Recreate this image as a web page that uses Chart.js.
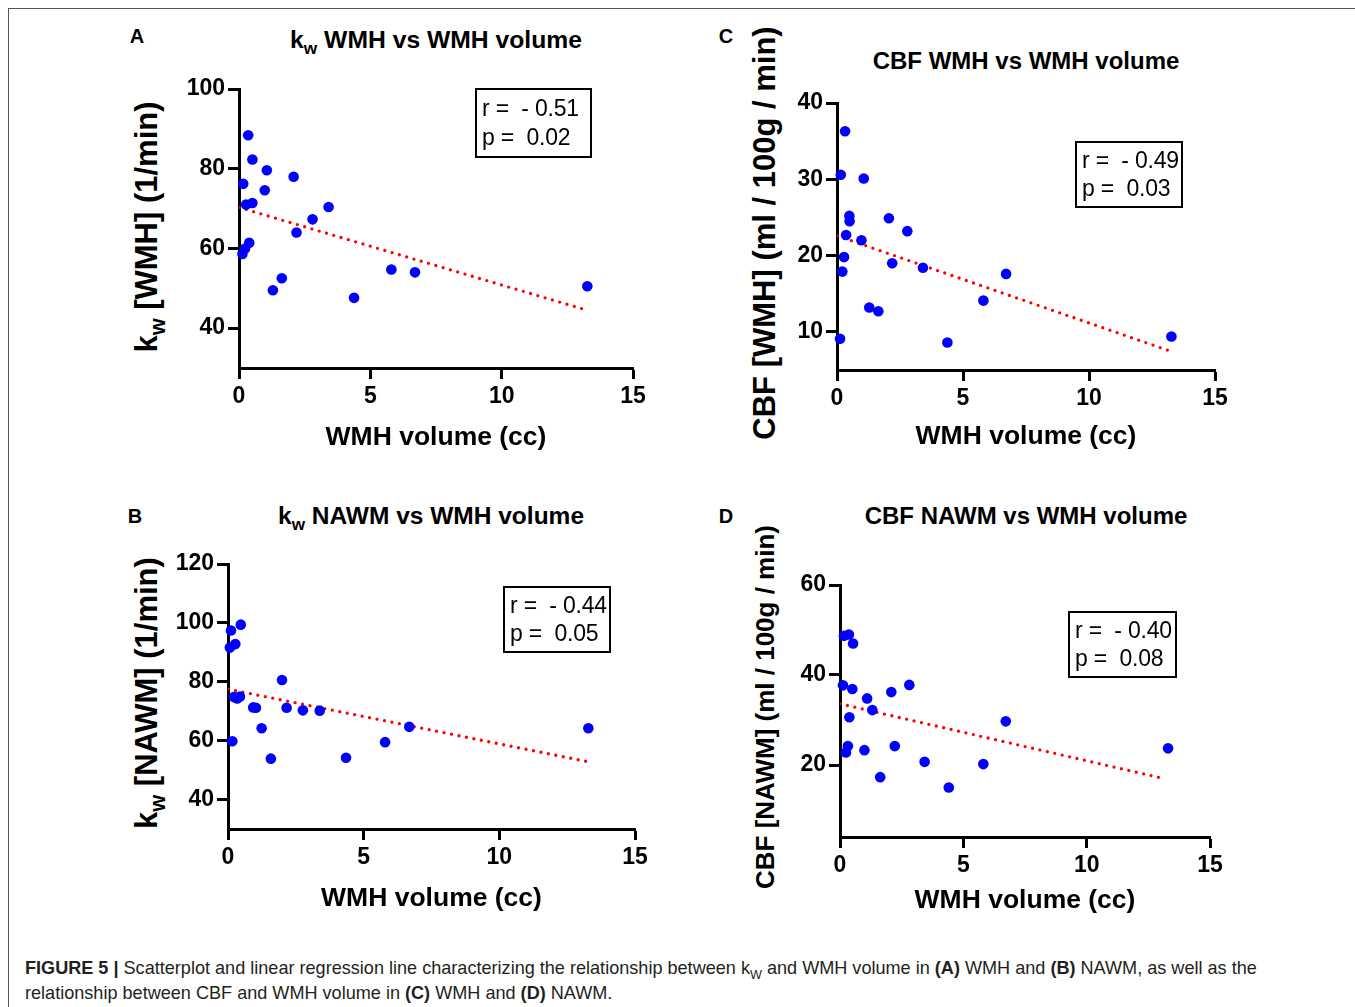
<!DOCTYPE html>
<html>
<head>
<meta charset="utf-8">
<script src="https://cdn.jsdelivr.net/npm/chart.js@4.4.0/dist/chart.umd.min.js"></script>
<style>
  body { margin: 0; background: #fff; width: 1355px; height: 1007px; position: relative; overflow: hidden;
         font-family: "Liberation Sans", Arial, sans-serif; color: #000; }
  .frame { position: absolute; left: 8px; top: 8px; width: 1347px; height: 999px;
           border-left: 1.5px solid #555; border-top: 1.5px solid #555; }
  canvas { position: absolute; }
  .letter { position: absolute; font-weight: bold; font-size: 20px; transform: translate(-50%, -50%); }
  .title { position: absolute; font-weight: bold; font-size: 24px; white-space: nowrap; transform: translate(-50%, -50%); }
  .ytitle { position: absolute; font-weight: bold; white-space: nowrap; transform: translate(-50%, -50%) rotate(-90deg); }
  .stat { position: absolute; box-sizing: border-box; border: 2px solid #000; font-size: 23px; line-height: 28px;
          padding: 3px 0 0 5px; white-space: pre; letter-spacing: -0.2px; }
  sub { font-size: 0.7em; vertical-align: -0.35em; line-height: 0; }
  .caption { position: absolute; left: 25px; top: 955px; font-size: 19px; line-height: 25px; color: #231f20;
             white-space: nowrap; transform: scaleX(0.952); transform-origin: 0 0; }
</style>
</head>
<body>
<div class="frame"></div>

<div class="letter" style="left:137px; top:36px;">A</div>
<div class="letter" style="left:726px; top:36px;">C</div>
<div class="letter" style="left:135px; top:516px;">B</div>
<div class="letter" style="left:726px; top:516px;">D</div>

<div class="title" style="left:436px; top:40px; font-size:24.7px;">k<sub>w</sub> WMH vs WMH volume</div>
<div class="title" style="left:1026px; top:61px;">CBF WMH vs WMH volume</div>
<div class="title" style="left:431px; top:516px; font-size:24.5px;">k<sub>w</sub> NAWM vs WMH volume</div>
<div class="title" style="left:1026px; top:516px;">CBF NAWM vs WMH volume</div>

<div class="ytitle" style="left:147px; top:227px; font-size:31px;">k<sub>w</sub> [WMH] (1/min)</div>
<div class="ytitle" style="left:765px; top:233px; font-size:31px;">CBF [WMH] (ml / 100g / min)</div>
<div class="ytitle" style="left:147px; top:693px; font-size:31px;">k<sub>w</sub> [NAWM] (1/min)</div>
<div class="ytitle" style="left:765px; top:707px; font-size:26px;">CBF [NAWM] (ml / 100g / min)</div>

<canvas id="chartA" width="500" height="420" style="left:170px; top:60px;"></canvas>
<canvas id="chartC" width="480" height="410" style="left:770px; top:70px;"></canvas>
<canvas id="chartB" width="510" height="405" style="left:160px; top:535px;"></canvas>
<canvas id="chartD" width="480" height="385" style="left:770px; top:555px;"></canvas>

<div class="stat" style="left:475px; top:88px; width:117px; height:70px; line-height:29px; padding-top:4px;">r =  - 0.51
p =  0.02</div>
<div class="stat" style="left:1075px; top:141px; width:108px; height:67px;">r =  - 0.49
p =  0.03</div>
<div class="stat" style="left:503px; top:586px; width:108px; height:67px;">r =  - 0.44
p =  0.05</div>
<div class="stat" style="left:1068px; top:611px; width:109px; height:67px;">r =  - 0.40
p =  0.08</div>

<div class="caption"><b>FIGURE 5 |</b> Scatterplot and linear regression line characterizing the relationship between k<sub>W</sub> and WMH volume in <b>(A)</b> WMH and <b>(B)</b> NAWM, as well as the<br>relationship between CBF and WMH volume in <b>(C)</b> WMH and <b>(D)</b> NAWM.</div>

<script>
// shared x axis
const xTicks = [0, 5, 10, 15];

// A: kw WMH vs WMH volume
const volA = [0.35, 0.51, 1.06, 2.08, 0.16, 0.98, 0.27, 0.51, 3.41, 2.80, 2.19, 0.39, 0.23, 0.13, 1.63, 1.29, 4.38, 5.80, 6.70, 13.26];
const kwWmh = [88.4, 82.3, 79.6, 78.0, 76.2, 74.6, 71.0, 71.4, 70.4, 67.3, 64.0, 61.4, 60.0, 58.6, 52.5, 49.5, 47.6, 54.7, 54.0, 50.5];
const fitAx = [0, 13.1];
const fitAy = [70.3, 44.8];
const yTicksA = [40, 60, 80, 100];

// C: CBF WMH vs WMH volume
const volC = [0.32, 0.15, 1.06, 0.49, 0.50, 2.06, 2.79, 0.36, 0.97, 0.28, 2.19, 3.41, 0.21, 6.71, 5.81, 1.28, 1.64, 0.12, 4.38, 13.27];
const cbfWmh = [36.3, 30.6, 30.1, 25.2, 24.5, 24.9, 23.2, 22.7, 22.0, 19.8, 19.0, 18.4, 17.9, 17.6, 14.1, 13.2, 12.7, 9.1, 8.6, 9.4];
const fitCx = [0, 13.12];
const fitCy = [22.6, 7.6];
const yTicksC = [10, 20, 30, 40];

// B: kw NAWM vs WMH volume
const volB = [0.47, 0.11, 0.27, 0.07, 1.99, 0.22, 0.34, 0.44, 0.93, 1.03, 2.16, 2.76, 3.38, 6.68, 13.28, 1.24, 0.16, 5.79, 1.58, 4.35];
const kwNawm = [99.4, 97.4, 92.8, 91.6, 80.6, 74.8, 74.3, 75.0, 71.3, 71.2, 71.2, 70.3, 70.2, 64.7, 64.2, 64.2, 59.8, 59.5, 53.9, 54.2];
const fitBx = [0, 13.18];
const fitBy = [77.5, 53.0];
const yTicksB = [40, 60, 80, 100, 120];

// D: CBF NAWM vs WMH volume
const volD = [0.16, 0.36, 0.53, 0.12, 0.50, 2.08, 2.81, 1.10, 1.31, 0.38, 6.72, 13.30, 0.32, 0.24, 0.99, 2.22, 3.43, 5.81, 1.63, 4.41];
const cbfNawm = [48.7, 49.0, 47.0, 37.7, 36.9, 36.2, 37.8, 34.8, 32.2, 30.6, 29.7, 23.7, 24.2, 22.8, 23.3, 24.2, 20.7, 20.2, 17.3, 15.0];
const fitDx = [0, 13.04];
const fitDy = [33.6, 17.1];
const yTicksD = [20, 40, 60];

const FONT = '"Liberation Sans", Arial, sans-serif';

function toPoints(xs, ys) {
    return xs.map((x, i) => ({ x: x, y: ys[i] }));
}

function axisStyle() {
    return {
        border: { display: true, color: '#000', width: 3 },
        grid: { display: true, drawOnChartArea: false, drawTicks: true, tickLength: 11, tickWidth: 3, tickColor: '#000', color: '#000' },
        ticks: { color: '#000', font: { family: FONT, size: 23, weight: 'bold' } }
    };
}

function makePanel(id, xs, ys, fitX, fitY, yMin, yMax, yTicks, box) {
    const xAxis = axisStyle();
    const yAxis = axisStyle();
    new Chart(document.getElementById(id), {
        type: 'scatter',
        data: {
            datasets: [
                {
                    data: toPoints(xs, ys),
                    backgroundColor: '#0000ff',
                    borderWidth: 0,
                    pointRadius: 5.3,
                    clip: false,
                    order: 1
                },
                {
                    data: toPoints(fitX, fitY),
                    showLine: true,
                    borderColor: '#ff0000',
                    borderWidth: 3.3,
                    borderDash: [0, 7.6],
                    borderCapStyle: 'round',
                    pointRadius: 0,
                    order: 2
                }
            ]
        },
        options: {
            responsive: false,
            animation: false,
            devicePixelRatio: 1,
            plugins: { legend: { display: false }, tooltip: { enabled: false } },
            layout: { padding: { top: box.top, right: box.right, left: 0, bottom: 0 } },
            scales: {
                x: {
                    type: 'linear', min: 0, max: 15,
                    border: xAxis.border, grid: xAxis.grid,
                    ticks: Object.assign(xAxis.ticks, { padding: 4, maxRotation: 0 }),
                    afterBuildTicks: s => { s.ticks = xTicks.map(v => ({ value: v })); },
                    afterFit: s => { s.height = box.xh; },
                    title: {
                        display: true, text: 'WMH volume (cc)', color: '#000',
                        font: { family: FONT, size: 26.5, weight: 'bold' },
                        padding: { top: 0, bottom: box.tb }
                    }
                },
                y: {
                    type: 'linear', min: yMin, max: yMax,
                    border: yAxis.border, grid: yAxis.grid,
                    ticks: Object.assign(yAxis.ticks, { padding: 3 }),
                    afterBuildTicks: s => { s.ticks = yTicks.map(v => ({ value: v })); },
                    afterFit: s => { s.width = box.yw; }
                }
            }
        }
    });
}

makePanel('chartA', volA, kwWmh, fitAx, fitAy, 30, 100, yTicksA, { top: 29, right: 37, yw: 69, xh: 112, tb: 26 });
makePanel('chartC', volC, cbfWmh, fitCx, fitCy, 5, 40, yTicksC, { top: 33, right: 35, yw: 67, xh: 110, tb: 27 });
makePanel('chartB', volB, kwNawm, fitBx, fitBy, 30, 120, yTicksB, { top: 29, right: 35, yw: 68, xh: 111, tb: 25 });
makePanel('chartD', volD, cbfNawm, fitDx, fitDy, 4, 60, yTicksD, { top: 30, right: 40, yw: 70, xh: 103, tb: 23 });
</script>
</body>
</html>
